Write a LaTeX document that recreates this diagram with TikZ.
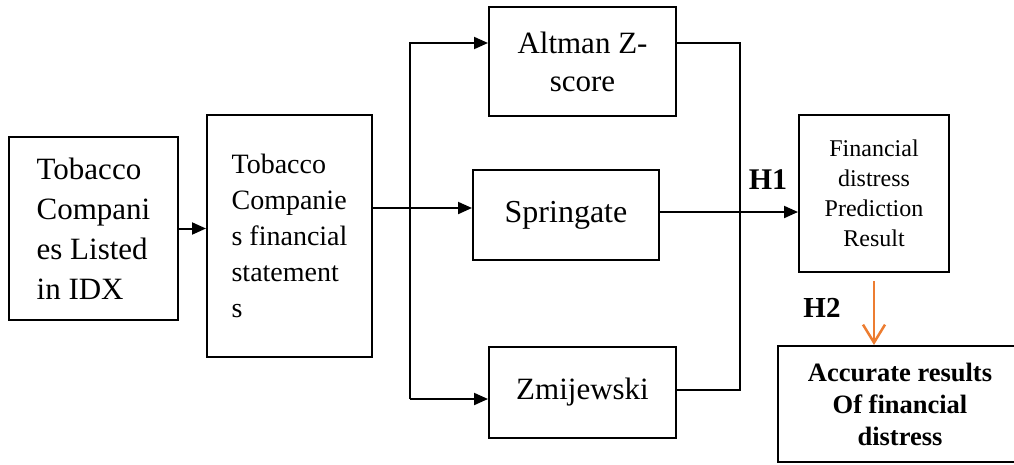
\documentclass[tikz,border=0pt]{standalone}
\usepackage{fontspec}
\setmainfont{Liberation Serif}
\usetikzlibrary{arrows.meta}
\definecolor{accent}{HTML}{ED7D31}
\tikzset{box/.style={draw,line width=2pt,inner sep=0pt},
  arr/.style={-{Triangle[length=14pt,width=12pt]}},
  harr/.style={accent,line width=2.5pt,shorten <=8pt,-{Straight Barb[length=18pt,width=22pt]}}}

\begin{document}
\begin{tikzpicture}[x=1pt,y=-1pt,line width=2pt]
	\useasboundingbox (0,0) rectangle (1014,464);
	\node[box,minimum width=169pt,minimum height=183pt,align=left,font=\fontsize{31}{40}\selectfont] (IDX) at (93.5,228.5) {Tobacco\\Compani\\es Listed\\in IDX};
	\node[box,minimum width=165pt,minimum height=242pt,align=left,font=\fontsize{28}{36}\selectfont] (FS) at (289.5,236) {Tobacco\\Companie\\s financial\\statement\\s};
	\node[box,minimum width=187pt,minimum height=109pt,align=center,font=\fontsize{31}{38}\selectfont] (AZ) at (582.5,61.5) {Altman Z-\\score};
	\node[box,minimum width=186pt,minimum height=90pt,font=\fontsize{32}{38}\selectfont] (SP) at (566,215) {Springate};
	\node[box,minimum width=187pt,minimum height=91pt,font=\fontsize{31}{38}\selectfont] (ZM) at (582.5,392.5) {Zmijewski};
	\node[box,minimum width=150pt,minimum height=157pt,align=center,font=\fontsize{24}{30}\selectfont] (FD) at (874,193.5) {Financial\\distress\\Prediction\\Result};
	\node[box,minimum width=244pt,minimum height=116pt,align=center,font=\fontsize{26.5}{32}\selectfont\bfseries] (AR) at (900,404) {Accurate results\\Of financial\\distress};
	\node[font=\fontsize{30}{36}\selectfont\bfseries] (H1) at (768,180) {H1};
	\node[font=\fontsize{29}{36}\selectfont\bfseries] (H2) at (822,308) {H2};
	\coordinate (s0) at (410,43);
	\coordinate (s1) at (410,399);
	\coordinate (c0) at (410,208);
	\coordinate (m0) at (740,43);
	\coordinate (m1) at (740,390);
	\draw[arr] (IDX.east) -- (IDX.east -| FS.west);
	\draw[arr] (FS.east |- c0) -- (c0 -| SP.west);
	\draw[arr] (s1) -- (s0) -- (s0 -| AZ.west);
	\draw[arr] (s1) -- (s1 -| ZM.west);
	\draw (AZ.east |- m0) -- (m0) -- (m1) -- (ZM.east |- m1);
	\draw[arr] ([yshift=3pt]SP.east) -- ([yshift=3pt]SP.east -| FD.west);
	\draw[harr] (FD.south) -- (FD.south |- AR.north);
\end{tikzpicture}
\end{document}
